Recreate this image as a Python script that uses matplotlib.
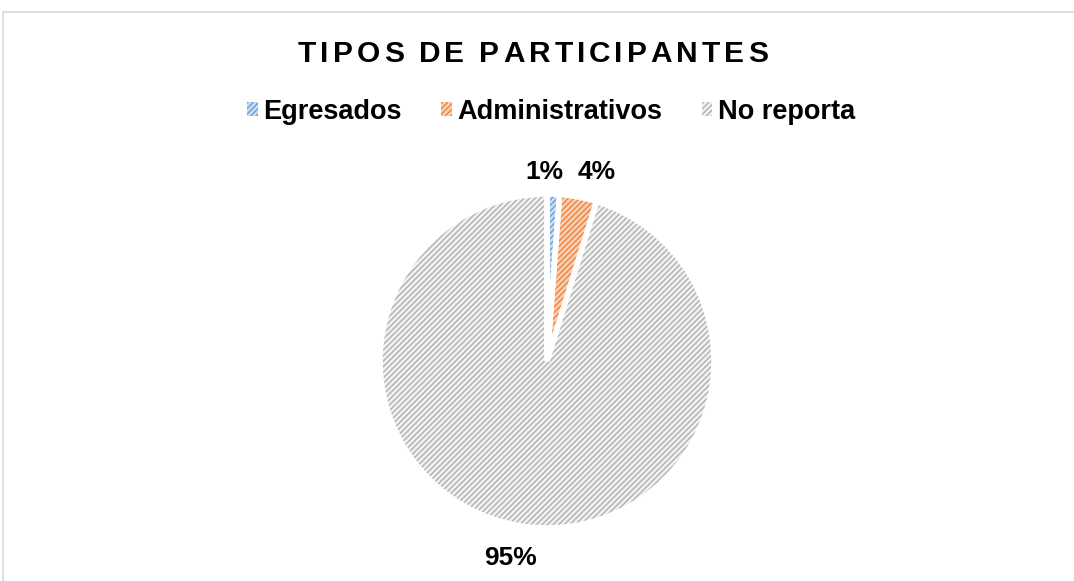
import numpy as np
import matplotlib.pyplot as plt
from matplotlib.patches import Rectangle

plt.rcParams['font.family'] = ['Liberation Sans', 'DejaVu Sans']
plt.rcParams['hatch.linewidth'] = 0.9

categorias = ['Egresados', 'Administrativos', 'No reporta']
valores = [1.2, 3.6, 95.2]
etiquetas = ['1%', '4%', '95%']
colores_linea = ['#5B9BD5', '#ED7D31', '#ABABAB']
colores_fondo = ['#C9DDF1', '#F9CFB2', '#F0F0F0']

W, H = 1074, 581
fig = plt.figure(figsize=(W / 100, H / 100), dpi=100)

# marco del grafico
fig.patches.append(Rectangle((3 / W, -0.1), 1.2, 1 - 12 / H + 0.1, transform=fig.transFigure,
                             fill=False, edgecolor='#D9D9D9', linewidth=1.2))

ax = fig.add_axes([380 / W, 53 / H, 334 / W, 334 / H])
wedges, _ = ax.pie(valores, startangle=90, counterclock=False, colors=colores_fondo,
                   wedgeprops=dict(linewidth=0))
for w, c in zip(wedges, colores_linea):
    w.set_hatch('//////')
    w.set_edgecolor(c)
# bordes blancos entre porciones
ax.pie(valores, startangle=90, counterclock=False,
       wedgeprops=dict(fill=False, edgecolor='white', linewidth=4))
ax.set_xlim(-1, 1)
ax.set_ylim(-1, 1)
ax.set_aspect('equal')
ax.axis('off')

ajustes = [(1.13, 3), (1.17, -4), (1.2, -1.8)]
for w, txt, (r, da) in zip(wedges, etiquetas, ajustes):
    ang = np.deg2rad((w.theta1 + w.theta2) / 2 + da)
    ax.text(r * np.cos(ang), r * np.sin(ang), txt, ha='center', va='center',
            fontsize=19, fontweight='bold', clip_on=False)

# titulo con espaciado entre letras
titulo = 'TIPOS DE PARTICIPANTES'
fig.canvas.draw()
rend = fig.canvas.get_renderer()
esp = 4.0
tam = 21.5
anchos = []
for ch in titulo:
    t = fig.text(0, 0, ch, fontsize=tam, fontweight='bold')
    anchos.append(t.get_window_extent(rend).width if ch != ' ' else 7)
    t.remove()
total = sum(anchos) + esp * (len(titulo) - 1)
x = 533 - total / 2
for ch, a in zip(titulo, anchos):
    fig.text(x / W, 1 - 54 / H, ch, fontsize=tam, fontweight='bold', va='center', ha='left')
    x += a + esp

# leyenda
handles = [Rectangle((0, 0), 1, 1, facecolor=f, edgecolor=c, hatch='//////', linewidth=0)
           for f, c in zip(colores_fondo, colores_linea)]
leg = fig.legend(handles, categorias, loc='center', bbox_to_anchor=(551 / W, 1 - 112 / H),
                 ncol=3, frameon=False, prop=dict(size=19.5, weight='bold'),
                 handlelength=0.4, handleheight=0.4, handletextpad=0.2, columnspacing=1.45)

fig.savefig('out.png', dpi=100)
